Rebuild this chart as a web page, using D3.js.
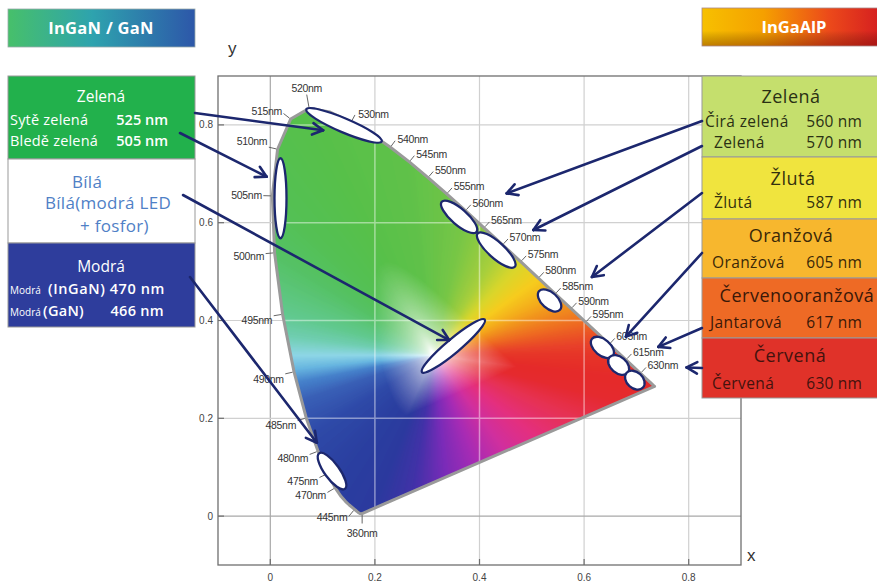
<!DOCTYPE html>
<html><head><meta charset="utf-8">
<script src="https://cdn.jsdelivr.net/npm/d3@7"></script>
<style>body{margin:0;background:#fff;} svg{display:block;}</style>
</head><body><svg id="c" width="877" height="583"></svg>
<script>
// ---------- DATA ----------
// CIE 1931 spectral locus (wavelength, x, y)
const locusNm = [360,380,400,420,430,435,440,445,450,455,460,465,470,475,480,485,490,495,500,505,510,515,520,525,530,535,540,545,550,555,560,565,570,575,580,585,590,595,600,605,610,615,620,625,630,640,650,660,680,700];
const locusX = [0.1756,0.1741,0.1733,0.1714,0.1689,0.1669,0.1644,0.1611,0.1566,0.1510,0.1440,0.1355,0.1241,0.1096,0.0913,0.0687,0.0454,0.0235,0.0082,0.0039,0.0139,0.0389,0.0743,0.1142,0.1547,0.1929,0.2296,0.2658,0.3016,0.3373,0.3731,0.4087,0.4441,0.4788,0.5125,0.5448,0.5752,0.6029,0.6270,0.6482,0.6658,0.6801,0.6915,0.7006,0.7079,0.7190,0.7260,0.7300,0.7334,0.7347];
const locusY = [0.0053,0.0050,0.0048,0.0051,0.0069,0.0086,0.0109,0.0138,0.0177,0.0227,0.0297,0.0399,0.0578,0.0868,0.1327,0.2007,0.2950,0.4127,0.5384,0.6548,0.7502,0.8120,0.8338,0.8262,0.8059,0.7816,0.7543,0.7243,0.6923,0.6589,0.6245,0.5896,0.5547,0.5202,0.4866,0.4544,0.4242,0.3965,0.3725,0.3514,0.3340,0.3197,0.3083,0.2993,0.2920,0.2809,0.2740,0.2700,0.2666,0.2653];
const labelNm = [360,445,470,475,480,485,490,495,500,505,510,515,520,530,540,545,550,555,560,565,570,575,580,585,590,595,605,615,630];
const xTicks = [0,0.2,0.4,0.6,0.8];
const yTicks = [0,0.2,0.4,0.6,0.8];
const whitePoint = [0.3127,0.329];

// LED colour spots (chromaticity of the marked ellipses)
const spotNames = ["525 nm","505 nm","560 nm","570 nm","587 nm","605 nm","617 nm","630 nm","Bílá","470 nm"];
const spotX = [0.141,0.0195,0.361,0.432,0.534,0.635,0.666,0.697,0.350,0.118];
const spotY = [0.799,0.650,0.612,0.544,0.441,0.345,0.309,0.278,0.348,0.092];

// arrow targets (chromaticity)
const arrowEndX = [0.101,-0.007,0.342,0.089,0.452,0.503,0.615,0.680,0.742,0.796];
const arrowEndY = [0.789,0.694,0.360,0.150,0.660,0.585,0.489,0.367,0.346,0.304];

// legend texts
const leftTitle = "InGaN / GaN";
const rightTitle = "InGaAlP";
const leftHeads = ["Zelená","Modrá"];
const leftRows = [["Sytě zelená","525 nm"],["Bledě zelená","505 nm"]];
const whiteRows = ["Bílá","Bílá(modrá LED","+ fosfor)"];
const blueRows = [["Modrá","(InGaN) 470 nm"],["Modrá","(GaN)","466 nm"]];
const rightHeads = ["Zelená","Žlutá","Oranžová","Červenooranžová","Červená"];
const rightRows = [["Čirá zelená","560 nm"],["Zelená","570 nm"],["Žlutá","587 nm"],["Oranžová","605 nm"],["Jantarová","617 nm"],["Červená","630 nm"]];

// ---------- LAYOUT ----------
const svg = d3.select('#c');
const x = d3.scaleLinear().domain([-0.1,0.9]).range([218,741]);
const y = d3.scaleLinear().domain([-0.1,0.9]).range([565,76]);
const navy = '#1c276e';
const defs = svg.append('defs');
svg.append('rect').attr('width',877).attr('height',583).attr('fill','#fff');

const locus = locusX.map((v,i)=>[v,locusY[i]]);
const locusPath = d3.line().x(d=>x(d[0])).y(d=>y(d[1]))(locus)+'Z';
defs.append('clipPath').attr('id','lc').append('path').attr('d',locusPath);

// grid (under)
const gGrid = svg.append('g');
gGrid.selectAll('.vx').data(xTicks).join('line').attr('x1',d=>x(d)).attr('x2',d=>x(d)).attr('y1',y(0.9)).attr('y2',y(-0.1))
  .attr('stroke',d=>d===0?'#a8a8a8':'#d0d0d0').attr('stroke-width',1.2);
gGrid.selectAll('.hy').data(yTicks).join('line').attr('y1',d=>y(d)).attr('y2',d=>y(d)).attr('x1',x(-0.1)).attr('x2',x(0.9))
  .attr('stroke',d=>d===0?'#a8a8a8':'#d0d0d0').attr('stroke-width',1.2);

// ---------- gamut colouring ----------
const hueA = [0,4,8,13,20,28,38,49,60,78,98,115,133,146,164,172,180,186,192,200,215,235,250,262,275,290,305,320,335,345,352,360];
const hueC = ['#e63528','#e8402a','#ea5226','#ee6a22','#f08a1e','#f4ac1c','#f6cc1e','#d8d62c','#a8cf3c','#78c646','#60c24a','#58c04a','#54c054','#56c266','#62c990','#70ceb0','#8ed6e6','#68b6e0','#4682cb','#3a60b6','#2f4aa8','#2b3fa0','#2c3a9e','#4232a8','#7a2cb8','#a82cb4','#d0309e','#e4307e','#e63252','#e52a30','#e52a2a','#e63528'];
const poly = locus.filter((p,i)=>i===0||Math.hypot(p[0]-locus[i-1][0],p[1]-locus[i-1][1])>0.002);
function rayDist(th){
  const c=Math.cos(th), s=Math.sin(th); let best=Infinity;
  for(let i=0;i<poly.length;i++){
    const a=poly[i], b=poly[(i+1)%poly.length];
    const ex=b[0]-a[0], ey=b[1]-a[1]; const den=c*ey-s*ex;
    if(Math.abs(den)<1e-14) continue;
    const ax=a[0]-whitePoint[0], ay=a[1]-whitePoint[1];
    const r=(ax*ey-ay*ex)/den, u=(s*ax-c*ay)/den;
    if(r>0&&u>=-1e-4&&u<=1+1e-4&&r<best) best=r;
  }
  return best;
}
const NB=1440; const distLUT=new Float32Array(NB); const hueLUT=[];
for(let k=0;k<NB;k++){
  const deg=(k+0.5)*360/NB; distLUT[k]=rayDist(deg*Math.PI/180);
  let j=0; while(j<hueA.length-2 && hueA[j+1]<deg) j++;
  const t=(deg-hueA[j])/(hueA[j+1]-hueA[j]);
  const col=d3.rgb(d3.interpolateRgb(hueC[j],hueC[j+1])(Math.max(0,Math.min(1,t))));
  hueLUT.push([col.r,col.g,col.b]);
}
for(let k=0;k<NB;k++){ if(!isFinite(distLUT[k])) distLUT[k]=isFinite(distLUT[(k+1)%NB])?distLUT[(k+1)%NB]:distLUT[(k+NB-1)%NB]; }
const X0=Math.round(x(-0.1)), Y0=Math.round(y(0.9)), PW=Math.round(x(0.9)-x(-0.1)), PH=Math.round(y(-0.1)-y(0.9));
const cv=document.createElement('canvas'); cv.width=PW; cv.height=PH;
const ctx=cv.getContext('2d'); const im=ctx.createImageData(PW,PH);
for(let j=0;j<PH;j++){
  const dy=y.invert(Y0+j+0.5)-whitePoint[1];
  for(let i=0;i<PW;i++){
    const dx=x.invert(X0+i+0.5)-whitePoint[0];
    let deg=Math.atan2(dy,dx)*180/Math.PI; if(deg<0) deg+=360;
    const f=deg*NB/360-0.5; const k0=((Math.floor(f)%NB)+NB)%NB, k1=(k0+1)%NB, w=f-Math.floor(f);
    const dist=distLUT[k0]*(1-w)+distLUT[k1]*w;
    const s=Math.sqrt(dx*dx+dy*dy)/dist;
    const t=Math.pow(Math.max(0,Math.min(1,(s-0.02)/0.36)),0.65);
    const h0=hueLUT[k0], h1=hueLUT[k1]; const o=(j*PW+i)*4;
    for(let c=0;c<3;c++){ const h=h0[c]*(1-w)+h1[c]*w; im.data[o+c]=255+(h-255)*t; }
    im.data[o+3]=255;
  }
}
ctx.putImageData(im,0,0);
svg.append('image').attr('href',cv.toDataURL()).attr('x',X0).attr('y',Y0).attr('width',PW).attr('height',PH)
  .attr('preserveAspectRatio','none').attr('clip-path','url(#lc)');

// grid over gamut (whitish)
const gG2 = svg.append('g').attr('clip-path','url(#lc)').attr('opacity',0.45);
gG2.selectAll('.v').data(xTicks).join('line').attr('x1',d=>x(d)).attr('x2',d=>x(d)).attr('y1',y(0.9)).attr('y2',y(-0.1)).attr('stroke','#fff').attr('stroke-width',1.5);
gG2.selectAll('.h').data(yTicks).join('line').attr('y1',d=>y(d)).attr('y2',d=>y(d)).attr('x1',x(-0.1)).attr('x2',x(0.9)).attr('stroke','#fff').attr('stroke-width',1.5);

// locus border
svg.append('path').attr('d',locusPath).attr('fill','none').attr('stroke','#9a9a9a').attr('stroke-width',3).attr('stroke-linejoin','round');

// frame + ticks
svg.append('rect').attr('x',x(-0.1)).attr('y',y(0.9)).attr('width',x(0.9)-x(-0.1)).attr('height',y(-0.1)-y(0.9))
  .attr('fill','none').attr('stroke','#6f6f6f').attr('stroke-width',1.3);
svg.selectAll('.yt').data(yTicks).join('line').attr('x1',x(-0.1)).attr('x2',x(-0.1)+6).attr('y1',d=>y(d)).attr('y2',d=>y(d)).attr('stroke','#6f6f6f').attr('stroke-width',1.2);
svg.selectAll('.xt').data(xTicks).join('line').attr('y1',y(-0.1)).attr('y2',y(-0.1)-6).attr('x1',d=>x(d)).attr('x2',d=>x(d)).attr('stroke','#6f6f6f').attr('stroke-width',1.2);
const tf = "'Liberation Sans', Arial, sans-serif";
svg.selectAll('.yl').data(yTicks).join('text').attr('x',x(-0.1)-5).attr('y',d=>y(d)).attr('dy','0.35em')
  .attr('text-anchor','end').attr('font-family',tf).attr('font-size',10).attr('fill','#444').text(d=>d3.format('~g')(d));
svg.selectAll('.xl').data(xTicks).join('text').attr('x',d=>x(d)).attr('y',y(-0.1)+16)
  .attr('text-anchor','middle').attr('font-family',tf).attr('font-size',10).attr('fill','#444').text(d=>d3.format('~g')(d));
svg.append('text').attr('x',228).attr('y',54).attr('font-family',tf).attr('font-size',17).attr('fill','#333').text('y');
svg.append('text').attr('x',747).attr('y',561).attr('font-family',tf).attr('font-size',17).attr('fill','#333').text('x');

// wavelength labels
const P = locus.map(d=>[x(d[0]),y(d[1])]);
const gL = svg.append('g').attr('font-family',tf).attr('font-size',10.5).attr('fill','#333').attr('letter-spacing','-0.3');
labelNm.forEach(nm=>{
  const i=locusNm.indexOf(nm); const p=P[i];
  let n;
  if(i===0){ n=[0,1]; }
  else { const a=P[i-1], b=P[i+1]; const dx=b[0]-a[0], dy=b[1]-a[1]; const L=Math.hypot(dx,dy); n=[dy/L,-dx/L]; }
  const t1=[p[0]+n[0]*1.5,p[1]+n[1]*1.5];
  let t2, tx, ty, anchor;
  if(i===0){ t2=[p[0],p[1]+10]; tx=p[0]; ty=p[1]+20; anchor='middle'; }
  else if(Math.abs(n[0])<0.35){ t2=[p[0]+n[0]*14,p[1]+n[1]*14]; tx=t2[0]; ty=t2[1]-6; anchor='middle'; }
  else if(n[0]>0){ t2=[p[0]+n[0]*8,p[1]+n[1]*8]; tx=p[0]+7; ty=p[1]-7.5; anchor='start'; }
  else { t2=[p[0]+n[0]*9,p[1]+n[1]*9]; tx=t2[0]-1.5; ty=p[1]+Math.max(-7.5,Math.min(7.5,n[1]*35)); anchor='end'; }
  gL.append('line').attr('x1',t1[0]).attr('y1',t1[1]).attr('x2',t2[0]).attr('y2',t2[1]).attr('stroke','#555').attr('stroke-width',0.9);
  gL.append('text').attr('x',tx).attr('y',ty).attr('dy','0.35em').attr('text-anchor',anchor).text(nm+'nm');
});

// ellipses
const spotShape = [[41,7,23],[40,6,90],[23,8,41],[25,8,42],[14,8,42],[13.5,8,40],[12,8,40],[11,8,42],[41,7,-40],[22,7.5,54]];
svg.append('g').selectAll('ellipse').data(spotNames).join('ellipse')
  .attr('transform',(d,i)=>`translate(${x(spotX[i])},${y(spotY[i])}) rotate(${spotShape[i][2]})`)
  .attr('rx',(d,i)=>spotShape[i][0]).attr('ry',(d,i)=>spotShape[i][1])
  .attr('fill','#fff').attr('stroke',navy).attr('stroke-width',2.3);

// ---------- legend panels ----------
const lf = "'Open Sans', Lato, sans-serif";
const g1 = defs.append('linearGradient').attr('id','g1');
[['0%','#47c06a'],['45%','#2ea3ae'],['100%','#2d57a9']].forEach(s=>g1.append('stop').attr('offset',s[0]).attr('stop-color',s[1]));
const g2 = defs.append('linearGradient').attr('id','g2');
[['0%','#f7c000'],['35%','#f5a000'],['72%','#ec4a1a'],['100%','#d62020']].forEach(s=>g2.append('stop').attr('offset',s[0]).attr('stop-color',s[1]));
const g3 = defs.append('linearGradient').attr('id','g3').attr('x1',0).attr('x2',0).attr('y1',0).attr('y2',1);
[['0%','rgba(0,0,0,0)'],['60%','rgba(0,0,0,0)'],['100%','rgba(90,0,0,0.35)']].forEach(s=>g3.append('stop').attr('offset',s[0]).attr('stop-color',s[1]));

svg.append('rect').attr('x',8).attr('y',9).attr('width',187).attr('height',38).attr('fill','url(#g1)').attr('stroke','#9aa').attr('stroke-width',0.8);
svg.append('text').attr('x',101).attr('y',28).attr('dy','0.36em').attr('text-anchor','middle').attr('font-family',lf).attr('font-weight',700).attr('font-size',16.5).attr('letter-spacing',0.3).attr('fill','#fff').text(leftTitle);
svg.append('rect').attr('x',702).attr('y',8).attr('width',176).attr('height',38).attr('fill','url(#g2)');
svg.append('rect').attr('x',702).attr('y',8).attr('width',176).attr('height',38).attr('fill','url(#g3)').attr('stroke','#a88').attr('stroke-width',0.8);
svg.append('text').attr('x',794).attr('y',27).attr('dy','0.36em').attr('text-anchor','middle').attr('font-family',lf).attr('font-weight',700).attr('font-size',16.5).attr('fill','#fff').text(rightTitle);

// left panel
const lp = svg.append('g').attr('font-family',lf);
lp.append('rect').attr('x',8).attr('y',76).attr('width',187).attr('height',83).attr('fill','#22b14c').attr('stroke','#999');
lp.append('rect').attr('x',8).attr('y',159).attr('width',187).attr('height',84).attr('fill','#fff').attr('stroke','#999');
lp.append('rect').attr('x',8).attr('y',243).attr('width',187).attr('height',84).attr('fill','#2e3d9c').attr('stroke','#999');
lp.append('text').attr('x',101).attr('y',102).attr('text-anchor','middle').attr('font-size',15.5).attr('fill','#fff').text(leftHeads[0]);
leftRows.forEach((r,i)=>{
  lp.append('text').attr('x',10).attr('y',125+i*21).attr('font-size',14.5).attr('letter-spacing',0.2).attr('fill','#fff').text(r[0]);
  lp.append('text').attr('x',168).attr('y',125+i*21).attr('text-anchor','end').attr('font-size',14.5).attr('font-weight',600).attr('fill','#fff').text(r[1]);
});
[[72,188],[45,209],[80,232]].forEach((p,i)=>lp.append('text').attr('x',p[0]).attr('y',p[1]).attr('font-size',17).attr('letter-spacing',0.3).attr('fill','#4f80c6').text(whiteRows[i]));
lp.append('text').attr('x',101).attr('y',272).attr('text-anchor','middle').attr('font-size',15.5).attr('fill','#fff').text(leftHeads[1]);
lp.append('text').attr('x',10).attr('y',294).attr('font-size',10).attr('fill','#fff').text(blueRows[0][0]);
lp.append('text').attr('x',165).attr('y',294).attr('text-anchor','end').attr('font-size',14.5).attr('font-weight',600).attr('letter-spacing',0.6).attr('fill','#fff').text(blueRows[0][1]);
lp.append('text').attr('x',10).attr('y',316).attr('font-size',10).attr('fill','#fff').text(blueRows[1][0]);
lp.append('text').attr('x',43).attr('y',316).attr('font-size',14.5).attr('font-weight',600).attr('letter-spacing',0.3).attr('fill','#fff').text(blueRows[1][1]);
lp.append('text').attr('x',164).attr('y',316).attr('text-anchor','end').attr('font-size',14.5).attr('font-weight',600).attr('letter-spacing',0.3).attr('fill','#fff').text(blueRows[1][2]);

// right panel
const rp = svg.append('g').attr('font-family',lf);
const rSec = [[76,157,'#c5df6d','#2a3014'],[157,219,'#f0e43e','#33300e'],[219,278,'#f7b72e','#3a2808'],[278,338,'#ee6a25','#3a1808'],[338,398,'#e03229','#45120e']];
rSec.forEach((s,i)=>{
  rp.append('rect').attr('x',702).attr('y',s[0]).attr('width',176).attr('height',s[1]-s[0]).attr('fill',s[2]).attr('stroke','#999');
});
const headY=[103,185,242,302,362];
const headX=[791,793,791,797,790];
rightHeads.forEach((h,i)=>rp.append('text').attr('x',headX[i]).attr('y',headY[i]).attr('text-anchor','middle').attr('font-size',18).attr('letter-spacing',0.5).attr('fill',rSec[i][3]).text(h));
const rowY=[127,148,208,268,328,389]; const rowX=[705,714,714,712,710,712]; const rowSec=[0,0,1,2,3,4];
rightRows.forEach((r,i)=>{
  rp.append('text').attr('x',rowX[i]).attr('y',rowY[i]).attr('font-size',15.5).attr('letter-spacing',0.4).attr('fill',rSec[rowSec[i]][3]).text(r[0]);
  rp.append('text').attr('x',862).attr('y',rowY[i]).attr('text-anchor','end').attr('font-size',15.5).attr('letter-spacing',0.2).attr('fill',rSec[rowSec[i]][3]).text(r[1]);
});

// ---------- arrows ----------
const arrowStart = [[195,113],[180,133],[183,195],[190,277],[702,121],[702,146],[702,193],[702,253],[702,328],[702,368]];
const ga = svg.append('g').attr('stroke',navy).attr('stroke-width',2.6).attr('fill','none').attr('stroke-linecap','round');
arrowStart.forEach((s,i)=>{
  const e=[x(arrowEndX[i]),y(arrowEndY[i])];
  ga.append('line').attr('x1',s[0]).attr('y1',s[1]).attr('x2',e[0]).attr('y2',e[1]);
  const ang=Math.atan2(e[1]-s[1],e[0]-s[0]); const L=12;
  [0.5,-0.5].forEach(da=>{
    ga.append('line').attr('x1',e[0]).attr('y1',e[1]).attr('x2',e[0]-L*Math.cos(ang+da)).attr('y2',e[1]-L*Math.sin(ang+da));
  });
});
</script></body></html>
